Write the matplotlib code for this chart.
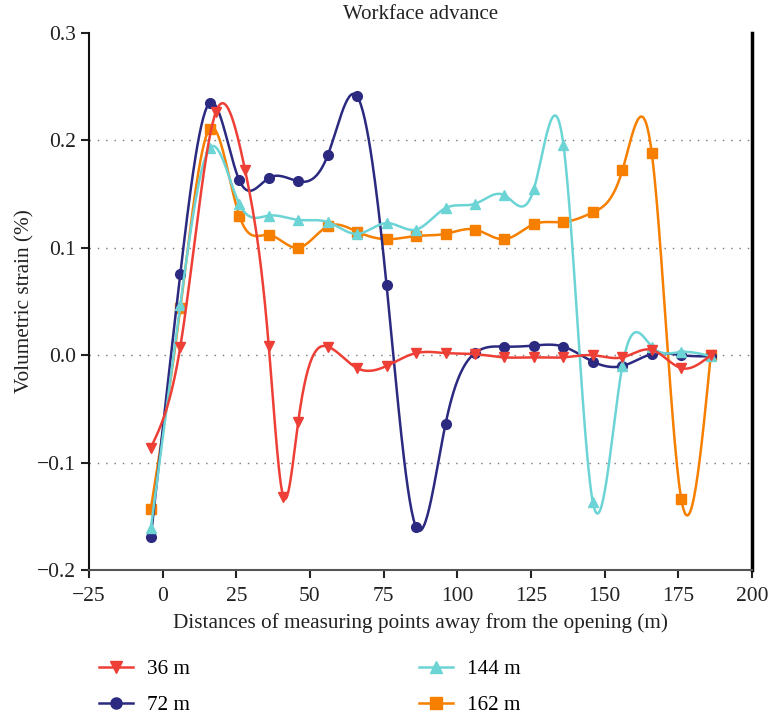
import numpy as np
import matplotlib
matplotlib.use("Agg")
import matplotlib.pyplot as plt

plt.rcParams['font.family'] = ['Liberation Serif', 'DejaVu Serif']

# measuring point positions (m)
x_pts = [-4, 6, 16, 26, 36, 46, 56, 66, 76, 86, 96, 106, 116, 126, 136, 146, 156, 166, 176, 186]
x_36 = [-4, 6, 18, 28, 36, 41, 46, 56, 66, 76, 86, 96, 106, 116, 126, 136, 146, 156, 166, 176, 186]

# volumetric strain (%)
s_36 = [-0.086, 0.008, 0.226, 0.172, 0.009, -0.132, -0.062, 0.008, -0.012, -0.010, 0.002,
        0.002, 0.001, -0.002, -0.002, -0.002, 0.000, -0.002, 0.005, -0.012, 0.000]
s_72 = [-0.169, 0.076, 0.235, 0.163, 0.165, 0.162, 0.186, 0.241, 0.065, -0.160, -0.064,
        0.002, 0.008, 0.009, 0.008, -0.006, -0.010, 0.001, 0.000, -0.001]
s_144 = [-0.161, 0.047, 0.193, 0.141, 0.130, 0.126, 0.124, 0.113, 0.123, 0.117, 0.137,
         0.141, 0.149, 0.155, 0.196, -0.137, -0.010, 0.008, 0.003, -0.001]
s_162 = [-0.143, 0.044, 0.211, 0.130, 0.112, 0.100, 0.120, 0.115, 0.108, 0.111, 0.113,
         0.117, 0.108, 0.122, 0.124, 0.133, 0.172, 0.188, -0.134, 0.000]

labels = ['36 m', '72 m', '144 m', '162 m']
colors = ['#ee3f36', '#2b2a80', '#6dd4d6', '#f77f00']
markers = ['v', 'o', '^', 's']


def smooth(x, y, n=600):
    # natural cubic spline through the points, for drawing the curve
    x = np.asarray(x, float)
    y = np.asarray(y, float)
    h = np.diff(x)
    m = len(x)
    A = np.zeros((m, m))
    r = np.zeros(m)
    A[0, 0] = A[-1, -1] = 1
    for i in range(1, m - 1):
        A[i, i - 1] = h[i - 1]
        A[i, i] = 2 * (h[i - 1] + h[i])
        A[i, i + 1] = h[i]
        r[i] = 3 * ((y[i + 1] - y[i]) / h[i] - (y[i] - y[i - 1]) / h[i - 1])
    c = np.linalg.solve(A, r)
    b = (y[1:] - y[:-1]) / h - h * (2 * c[:-1] + c[1:]) / 3
    d = (c[1:] - c[:-1]) / (3 * h)
    xs = np.linspace(x[0], x[-1], n)
    k = np.clip(np.searchsorted(x, xs) - 1, 0, m - 2)
    t = xs - x[k]
    ys = y[k] + b[k] * t + c[k] * t ** 2 + d[k] * t ** 3
    return xs, ys


fig = plt.figure(figsize=(7.69, 7.21), dpi=100)
ax = fig.add_axes([0.1157, 0.2094, 0.8622, 0.7448])

for yv in [0.2, 0.1, 0.0, -0.1]:
    ax.axhline(yv, color='#777777', lw=1, ls=(0, (1, 5)), zorder=0)

series = [(x_36, s_36), (x_pts, s_72), (x_pts, s_144), (x_pts, s_162)]
order = [3, 1, 2, 0]
handles = [None] * 4
for i in order:
    xx, yy = series[i]
    xs, ys = smooth(xx, yy)
    ax.plot(xs, ys, color=colors[i], lw=1.8, zorder=2 + order.index(i))
    ax.plot(xx, yy, ls='none', marker=markers[i], color=colors[i],
            ms=7.5 if markers[i] != 'o' else 7, zorder=2 + order.index(i))
    handles[i] = plt.Line2D([], [], color=colors[i], lw=1.8, marker=markers[i], ms=8)

ax.set_xlim(-25, 200)
ax.set_ylim(-0.2, 0.3)
ax.set_xticks(np.arange(-25, 201, 25))
ax.set_yticks([-0.2, -0.1, 0.0, 0.1, 0.2, 0.3])
ax.set_yticklabels(['\u22120.2', '\u22120.1', '0.0', '0.1', '0.2', '0.3'])
ax.set_xticklabels(['\u221225'] + [str(v) for v in range(0, 201, 25)])
ax.tick_params(direction='out', length=6, width=1.5, labelsize=15.5, colors='#222222')
ax.tick_params(axis='x', pad=6)

ax.spines['top'].set_visible(False)
ax.spines['left'].set_linewidth(1.5)
ax.spines['left'].set_color('#111111')
ax.spines['bottom'].set_linewidth(1.5)
ax.spines['bottom'].set_color('#555555')
ax.spines['right'].set_linewidth(2.5)
ax.spines['right'].set_color('black')

ax.set_xlabel('Distances of measuring points away from the opening (m)', fontsize=15.3,
              color='#222222', labelpad=5)
ax.set_ylabel('Volumetric strain (%)', fontsize=15.3, color='#222222', labelpad=2)
ax.text(0.5, 1.035, 'Workface advance', transform=ax.transAxes, ha='center', va='center',
        fontsize=15, color='#222222')

fig.legend(handles, labels, ncol=2, frameon=False, fontsize=15.3, loc='upper left',
           bbox_to_anchor=(0.104, 0.112), handlelength=1.6, handletextpad=0.65,
           columnspacing=10.8, labelspacing=0.75)

fig.savefig('out.png', dpi=100)
